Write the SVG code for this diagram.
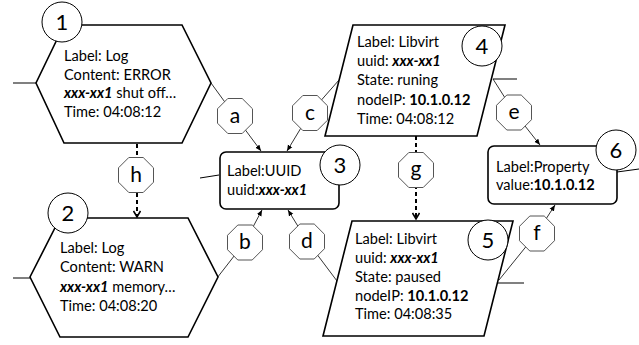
<svg xmlns="http://www.w3.org/2000/svg" width="639" height="345" viewBox="0 0 639 345">
<defs>
<style>
.t{font-family:Lato,"Liberation Sans",sans-serif;font-size:14.6px;fill:#000}
.b{font-weight:bold}
.bi{font-weight:bold;font-style:italic}
.shape{fill:#fff;stroke:#000;stroke-width:1.6}
.num{fill:#fff;stroke:#000;stroke-width:1}
.numt{font-family:Lato,"Liberation Sans",sans-serif;font-size:22px;text-anchor:middle;fill:#000}
.oct{fill:#fff;stroke:#555;stroke-width:1}
.octt{font-family:Lato,"Liberation Sans",sans-serif;font-size:21px;text-anchor:middle;fill:#000}
.edge{fill:none;stroke:#000;stroke-width:0.8}
.dash{fill:none;stroke:#000;stroke-width:2;stroke-dasharray:4,3}
.stubg{stroke:#808080;stroke-width:2}
.stubk{stroke:#000;stroke-width:1}
</style>
<marker id="ah" markerWidth="7" markerHeight="6" refX="6" refY="3" orient="auto" markerUnits="userSpaceOnUse">
<path d="M0,0.5 L6,3 L0,5.5 z" fill="#000"/>
</marker>
<marker id="av" markerWidth="9" markerHeight="8" refX="7" refY="4" orient="auto" markerUnits="userSpaceOnUse">
<path d="M1,0.5 L7,4 L1,7.5" fill="none" stroke="#000" stroke-width="1.6"/>
</marker>
</defs>

<g id="connectors">
<line class="stubg" x1="13" y1="83" x2="36" y2="83"/>
<line class="stubk" x1="13" y1="278" x2="30" y2="278"/>
<line class="stubk" x1="200" y1="178" x2="219" y2="175"/>
<line class="stubg" x1="493" y1="79" x2="517" y2="79"/>
<line class="stubg" x1="498" y1="283" x2="524" y2="283"/>
<line class="stubk" x1="617" y1="172" x2="639" y2="169"/>
<path class="edge" d="M211,83 L235,116 L261,151" marker-end="url(#ah)"/>
<path class="edge" d="M339,80 L310,113 L287,151" marker-end="url(#ah)"/>
<path class="edge" d="M217,278 L245,242 L262,210" marker-end="url(#ah)"/>
<path class="edge" d="M337,281 L307,241 L288,210" marker-end="url(#ah)"/>
<path class="edge" d="M493,79 L514,112 L540,145" marker-end="url(#ah)"/>
<path class="edge" d="M499,280 L537,233 L555,205" marker-end="url(#ah)"/>
<path class="dash" d="M137,144 L137,217" marker-end="url(#av)"/>
<path class="dash" d="M416,136 L416,219" marker-end="url(#av)"/>
<g id="label-a"><polygon class="oct" points="227.8,98.5 242.2,98.5 252.5,108.8 252.5,123.2 242.2,133.5 227.8,133.5 217.5,123.2 217.5,108.8"/><text class="octt" x="235" y="123">a</text></g>
<g id="label-c"><polygon class="oct" points="302.8,95.5 317.2,95.5 327.5,105.8 327.5,120.2 317.2,130.5 302.8,130.5 292.5,120.2 292.5,105.8"/><text class="octt" x="310" y="120">c</text></g>
<g id="label-b"><polygon class="oct" points="237.8,225 252.2,225 262.5,235.3 262.5,249.7 252.2,260 237.8,260 227.5,249.7 227.5,235.3"/><text class="octt" x="245" y="249">b</text></g>
<g id="label-d"><polygon class="oct" points="299.8,224 314.2,224 324.5,234.3 324.5,248.7 314.2,259 299.8,259 289.5,248.7 289.5,234.3"/><text class="octt" x="307" y="248">d</text></g>
<g id="label-e"><polygon class="oct" points="506.8,95 521.2,95 531.5,105.3 531.5,119.7 521.2,130 506.8,130 496.5,119.7 496.5,105.3"/><text class="octt" x="514" y="119">e</text></g>
<g id="label-f"><polygon class="oct" points="529.8,216 544.2,216 554.5,226.3 554.5,240.7 544.2,251 529.8,251 519.5,240.7 519.5,226.3"/><text class="octt" x="537" y="240">f</text></g>
<g id="label-h"><polygon class="oct" points="128.8,157.5 143.2,157.5 153.5,167.8 153.5,182.2 143.2,192.5 128.8,192.5 118.5,182.2 118.5,167.8"/><text class="octt" x="136" y="182">h</text></g>
<g id="label-g"><polygon class="oct" points="408.8,152.5 423.2,152.5 433.5,162.8 433.5,177.2 423.2,187.5 408.8,187.5 398.5,177.2 398.5,162.8"/><text class="octt" x="416" y="176">g</text></g>
</g>

<g id="node1">
<polygon class="shape" points="64,25 182,25 211,83 182,143 64,143 36,83"/>
<text class="t" x="64" y="61">Label: Log</text>
<text class="t" x="64" y="79.5">Content: ERROR</text>
<text class="t" x="64" y="98"><tspan class="bi">xxx-xx1</tspan> shut off…</text>
<text class="t" x="64" y="117">Time: 04:08:12</text>
<circle class="num" cx="62" cy="22" r="20"/>
<text class="numt" x="62" y="30">1</text>
</g>

<g id="node2">
<polygon class="shape" points="60,218 188,218 218,277 188,337 60,337 30,277"/>
<text class="t" x="60" y="253">Label: Log</text>
<text class="t" x="60" y="272">Content: WARN</text>
<text class="t" x="60" y="291.5"><tspan class="bi">xxx-xx1</tspan> memory…</text>
<text class="t" x="60" y="311">Time: 04:08:20</text>
<circle class="num" cx="68" cy="213" r="20"/>
<text class="numt" x="68" y="221">2</text>
</g>

<g id="node3">
<rect class="shape" x="220" y="152" width="119" height="57" rx="6"/>
<text class="t" x="227" y="176">Label:UUID</text>
<text class="t" x="227" y="195">uuid:<tspan class="bi">xxx-xx1</tspan></text>
<circle class="num" cx="340" cy="165" r="20"/>
<text class="numt" x="340" y="173">3</text>
</g>

<g id="node4">
<polygon class="shape" points="353,25 505,25 477,136 325,136"/>
<text class="t" x="357" y="47">Label: Libvirt</text>
<text class="t" x="357" y="66">uuid: <tspan class="bi">xxx-xx1</tspan></text>
<text class="t" x="357" y="85">State: runing</text>
<text class="t" x="357" y="104.5">nodeIP: <tspan class="b">10.1.0.12</tspan></text>
<text class="t" x="357" y="124">Time: 04:08:12</text>
<circle class="num" cx="482" cy="46" r="20"/>
<text class="numt" x="482" y="54">4</text>
</g>

<g id="node5">
<polygon class="shape" points="352,221 513,221 484,336 323,336"/>
<text class="t" x="355" y="244">Label: Libvirt</text>
<text class="t" x="355" y="263">uuid: <tspan class="bi">xxx-xx1</tspan></text>
<text class="t" x="355" y="282">State: paused</text>
<text class="t" x="355" y="301">nodeIP: <tspan class="b">10.1.0.12</tspan></text>
<text class="t" x="355" y="319">Time: 04:08:35</text>
<circle class="num" cx="488" cy="240" r="20"/>
<text class="numt" x="488" y="248">5</text>
</g>

<g id="node6">
<rect class="shape" x="488" y="146" width="129" height="58" rx="6"/>
<text class="t" x="496" y="172">Label:Property</text>
<text class="t" x="496" y="190">value:<tspan class="b">10.1.0.12</tspan></text>
<circle class="num" cx="616" cy="150" r="20"/>
<text class="numt" x="616" y="158">6</text>
</g>
</svg>
